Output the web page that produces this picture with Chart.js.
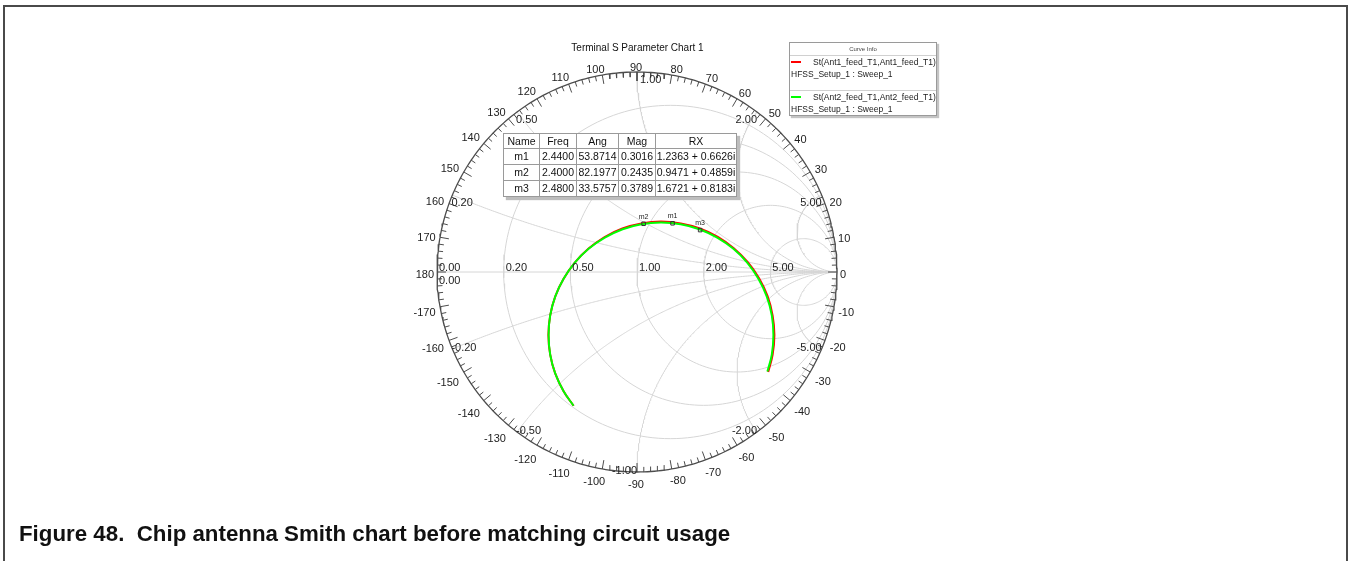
<!DOCTYPE html>
<html>
<head>
<meta charset="utf-8">
<script src="https://cdn.jsdelivr.net/npm/chart.js@4.4.1/dist/chart.umd.min.js"></script>
<style>
html,body{margin:0;padding:0;background:#fff;}
body{position:relative;width:1352px;height:561px;overflow:hidden;font-family:"Liberation Sans",Arial,Helvetica,sans-serif;color:#111;}
#frame{position:absolute;left:3px;top:5px;width:1345px;height:570px;border:2px solid #4a4a4a;border-bottom:none;box-sizing:border-box;}
#chartCanvas{position:absolute;left:0;top:0;}
#title{position:absolute;left:537px;top:42px;width:201px;text-align:center;font-size:10px;line-height:12px;color:#111;}
#legend{position:absolute;left:789px;top:42px;width:148px;height:74px;border:1px solid #9a9a9a;background:#fff;box-shadow:2px 2px 1px #c4c4c4;box-sizing:border-box;font-size:8.5px;line-height:10px;color:#222;}
#legend .lt{position:absolute;left:0;right:0;top:3px;text-align:center;font-size:6px;line-height:7px;color:#444;}
#legend .hr{position:absolute;left:0;right:0;height:0;border-top:1px solid #d0d0d0;}
#legend .item{position:absolute;left:0;white-space:nowrap;}
#legend .sw{position:absolute;left:1px;width:10px;height:2px;}
#markers{position:absolute;left:503px;top:133px;border-collapse:collapse;background:#fff;font-size:10.5px;box-shadow:3px 3px 1px #bdbdbd;border:1px solid #555;table-layout:fixed;}
#markers td,#markers th{border:1px solid #9a9a9a;padding:0;text-align:center;font-weight:normal;white-space:nowrap;overflow:hidden;height:15px;line-height:15px;color:#111;}
#markers th{height:14px;line-height:14px;}
#caption{position:absolute;left:19px;top:521px;font-weight:bold;font-size:22.3px;line-height:25px;color:#111;white-space:nowrap;}
</style>
</head>
<body>
<div id="frame"></div>
<canvas id="chartCanvas" width="1352" height="561"></canvas>
<div id="title"></div>
<div id="legend"></div>
<table id="markers"></table>
<div id="caption">Figure 48.&nbsp; Chip antenna Smith chart before matching circuit usage</div>
<script>
// ---------------- data ----------------
const chartTitle = 'Terminal S Parameter Chart 1';
const seriesNames = ['St(Ant1_feed_T1,Ant1_feed_T1)', 'St(Ant2_feed_T1,Ant2_feed_T1)'];
const seriesSetup = ['HFSS_Setup_1 : Sweep_1', 'HFSS_Setup_1 : Sweep_1'];
const seriesColors = ['#ff0000', '#00ff00'];

// constant-resistance circles and constant-reactance arcs of the grid
const rCircleValues = [0.2, 0.5, 1, 2, 5];
const xArcValues = [0.2, 0.5, 1, 2, 5, -0.2, -0.5, -1, -2, -5];

// tick labels
const rTickValues = [0, 0.2, 0.5, 1, 2, 5];
const rTickLabels = ['0.00', '0.20', '0.50', '1.00', '2.00', '5.00'];
const xTickValues = [0.2, 0.5, 1, 2, 5, -0.2, -0.5, -1, -2, -5, 0];
const xTickLabels = ['0.20', '0.50', '1.00', '2.00', '5.00', '-0.20', '-0.50', '-1.00', '-2.00', '-5.00', '0.00'];
const angleTickValues = [0, 10, 20, 30, 40, 50, 60, 70, 80, 90, 100, 110, 120, 130, 140, 150, 160, 170, 180,
  -170, -160, -150, -140, -130, -120, -110, -100, -90, -80, -70, -60, -50, -40, -30, -20, -10];
const angleTickLabels = angleTickValues.map(String);

const s11Re = [-0.317, -0.367, -0.409, -0.434, -0.443, -0.434, -0.409, -0.367, -0.311, -0.242, -0.162, -0.073, 0.022, 0.120, 0.219, 0.314, 0.404, 0.484, 0.554, 0.611, 0.653, 0.678, 0.687, 0.678, 0.656];
const s11Im = [-0.669, -0.596, -0.507, -0.413, -0.315, -0.217, -0.123, -0.034, 0.047, 0.117, 0.175, 0.218, 0.243, 0.252, 0.243, 0.218, 0.176, 0.119, 0.049, -0.032, -0.121, -0.217, -0.315, -0.414, -0.500];
const s22Re = [-0.317, -0.367, -0.409, -0.434, -0.442, -0.434, -0.409, -0.367, -0.311, -0.242, -0.161, -0.072, 0.022, 0.120, 0.218, 0.312, 0.401, 0.482, 0.551, 0.607, 0.649, 0.674, 0.682, 0.674, 0.652];
const s22Im = [-0.669, -0.596, -0.507, -0.413, -0.315, -0.217, -0.123, -0.034, 0.047, 0.116, 0.172, 0.214, 0.239, 0.247, 0.239, 0.214, 0.172, 0.116, 0.047, -0.034, -0.123, -0.217, -0.315, -0.413, -0.498];

// markers
const markerNames = ['m1', 'm2', 'm3'];
const markerFreq = ['2.4400', '2.4000', '2.4800'];
const markerAng = [53.8714, 82.1977, 33.5757];
const markerMag = [0.3016, 0.2435, 0.3789];
const markerRX = ['1.2363 + 0.6626i', '0.9471 + 0.4859i', '1.6721 + 0.8183i'];
const markerColumns = ['Name', 'Freq', 'Ang', 'Mag', 'RX'];

// ---------------- html parts ----------------
document.getElementById('title').textContent = chartTitle;
(function buildLegend() {
  const lg = document.getElementById('legend');
  let html = '<div class="lt">Curve Info</div><div class="hr" style="top:12px"></div><div class="hr" style="top:47px"></div>';
  const tops = [14, 49];
  seriesNames.forEach((n, i) => {
    const t = tops[i];
    html += '<div class="sw" style="top:' + (t + 4) + 'px;background:' + seriesColors[i] + '"></div>';
    html += '<div class="item" style="left:23px;top:' + t + 'px">' + n + '</div>';
    html += '<div class="item" style="left:1px;top:' + (t + 12) + 'px">' + seriesSetup[i] + '</div>';
  });
  lg.innerHTML = html;
})();
(function buildTable() {
  const tb = document.getElementById('markers');
  const widths = [35, 36, 41, 36, 80];
  let html = '<tr>' + markerColumns.map((c, i) => '<th style="width:' + widths[i] + 'px">' + c + '</th>').join('') + '</tr>';
  markerNames.forEach((n, i) => {
    html += '<tr><td>' + n + '</td><td>' + markerFreq[i] + '</td><td>' + markerAng[i].toFixed(4) +
      '</td><td>' + markerMag[i].toFixed(4) + '</td><td>' + markerRX[i] + '</td></tr>';
  });
  tb.innerHTML = html;
})();

// ---------------- grid geometry ----------------
function zToGamma(r, x) {
  const d = (r + 1) * (r + 1) + x * x;
  return { x: (r * r + x * x - 1) / d, y: (2 * x) / d };
}
const gridSets = [];
rCircleValues.forEach(r => {
  const c = r / (1 + r), rad = 1 / (1 + r), pts = [];
  for (let k = 0; k <= 360; k += 2) {
    const t = k * Math.PI / 180;
    pts.push({ x: c + rad * Math.cos(t), y: rad * Math.sin(t) });
  }
  gridSets.push(pts);
});
xArcValues.forEach(xv => {
  const pts = [];
  for (let k = 0; k <= 240; k++) {
    const u = k / 240 * Math.PI / 2;
    const r = k === 240 ? 1e9 : Math.tan(u);
    pts.push(zToGamma(r, xv));
  }
  gridSets.push(pts);
});
gridSets.push([{ x: -1, y: 0 }, { x: 1, y: 0 }]);

const outerPts = [];
for (let k = 0; k <= 360; k++) {
  const t = k * Math.PI / 180;
  outerPts.push({ x: Math.cos(t), y: Math.sin(t) });
}
const tickPts = [];
for (let d = -178; d <= 180; d += 2) {
  const t = d * Math.PI / 180;
  const len = (d % 10 === 0) ? 0.045 : 0.025;
  tickPts.push({ x: Math.cos(t), y: Math.sin(t) });
  tickPts.push({ x: (1 - len) * Math.cos(t), y: (1 - len) * Math.sin(t) });
  tickPts.push({ x: Math.cos(t), y: null });
}

const redPts = s11Re.map((v, i) => ({ x: v, y: s11Im[i] }));
const greenPts = s22Re.map((v, i) => ({ x: v, y: s22Im[i] }));
const markerPts = markerMag.map((m, i) => ({
  x: m * Math.cos(markerAng[i] * Math.PI / 180),
  y: m * Math.sin(markerAng[i] * Math.PI / 180)
}));

// ---------------- labels plugin ----------------
const smithLabels = {
  id: 'smithLabels',
  afterDatasetsDraw(chart) {
    const ctx = chart.ctx, sx = chart.scales.x, sy = chart.scales.y;
    const cx = sx.getPixelForValue(0), cy = sy.getPixelForValue(0);
    const R = sx.getPixelForValue(1) - cx;
    ctx.save();
    ctx.fillStyle = '#222';
    ctx.font = '11px "Liberation Sans", Arial, sans-serif';
    ctx.textBaseline = 'middle';
    ctx.textAlign = 'center';
    // angle labels around the rim
    angleTickValues.forEach((a, i) => {
      const txt = angleTickLabels[i];
      const t = a * Math.PI / 180;
      let c = Math.cos(t), s = Math.sin(t);
      if (Math.abs(c) < 1e-9) c = 0;
      if (Math.abs(s) < 1e-9) s = 0;
      const w = ctx.measureText(txt).width;
      const rad = R + 3 + Math.abs(c) * w / 2 + Math.abs(s) * 4;
      const px = cx + rad * c + Math.sign(c) * Math.abs(s) * w / 2 * 0.6 - (c === 0 ? 1 : 0);
      const py = cy - rad * s + (s < 0 ? 4 + (c === 0 ? 2 : 0) : 3);
      ctx.fillText(txt, px, py);
    });
    // resistance labels along the real axis
    ctx.textBaseline = 'alphabetic';
    ctx.textAlign = 'left';
    rTickValues.forEach((r, i) => {
      const gx = (r - 1) / (r + 1);
      ctx.fillText(rTickLabels[i], sx.getPixelForValue(gx) + 2, cy - 1);
    });
    // reactance labels at the rim
    xTickValues.forEach((xv, i) => {
      const txt = xTickLabels[i];
      if (xv === 0) {
        ctx.textAlign = 'left';
        ctx.fillText(txt, cx - R + 2, cy + 12);
        return;
      }
      const g = zToGamma(0, xv);
      const ex = sx.getPixelForValue(g.x), ey = sy.getPixelForValue(g.y);
      let align;
      if (g.x < -0.01) align = 'left';
      else if (g.x > 0.01) align = 'right';
      else align = xv > 0 ? 'left' : 'right';
      ctx.textAlign = align;
      const xOff = align === 'left' ? (Math.abs(g.x) < 0.01 ? 3 : -1) : 0;
      const yPos = xv > 0 ? ey + 11 : ey + 2;
      ctx.fillText(txt, ex + xOff, yPos);
    });
    // marker names
    ctx.font = '7px "Liberation Sans", Arial, sans-serif';
    ctx.textAlign = 'center';
    ctx.textBaseline = 'alphabetic';
    markerPts.forEach((p, i) => {
      ctx.fillText(markerNames[i], sx.getPixelForValue(p.x), sy.getPixelForValue(p.y) - 5);
    });
    ctx.restore();
  }
};

// ---------------- chart ----------------
const gridDatasets = gridSets.map(pts => ({
  data: pts, showLine: true, borderColor: '#d6d6d6', borderWidth: 1, pointRadius: 0,
  fill: false, tension: 0, order: 10, clip: false
}));

new Chart(document.getElementById('chartCanvas'), {
  type: 'scatter',
  data: {
    datasets: [
      ...gridDatasets,
      { data: outerPts, showLine: true, borderColor: '#4d4d4d', borderWidth: 1.3, pointRadius: 0, order: 8, clip: false },
      { data: tickPts, showLine: true, spanGaps: false, borderColor: '#4d4d4d', borderWidth: 1, pointRadius: 0, order: 8, clip: false },
      { label: seriesNames[0], data: redPts, showLine: true, borderColor: seriesColors[0], borderWidth: 2, pointRadius: 0, tension: 0.4, order: 2, clip: false },
      { label: seriesNames[1], data: greenPts, showLine: true, borderColor: seriesColors[1], borderWidth: 2, pointRadius: 0, tension: 0.4, order: 1, clip: false },
      { data: markerPts, showLine: false, pointStyle: 'rect', pointRadius: 2.5, borderColor: '#333', borderWidth: 1,
        backgroundColor: 'rgba(0,0,0,0)', order: 0, clip: false }
    ]
  },
  options: {
    responsive: false,
    animation: false,
    devicePixelRatio: 1,
    layout: { padding: { left: 437, right: 515, top: 72, bottom: 89 } },
    scales: {
      x: { type: 'linear', min: -1, max: 1, display: false },
      y: { type: 'linear', min: -1, max: 1, display: false }
    },
    plugins: { legend: { display: false }, tooltip: { enabled: false }, title: { display: false } },
    events: []
  },
  plugins: [smithLabels]
});
</script>
</body>
</html>
